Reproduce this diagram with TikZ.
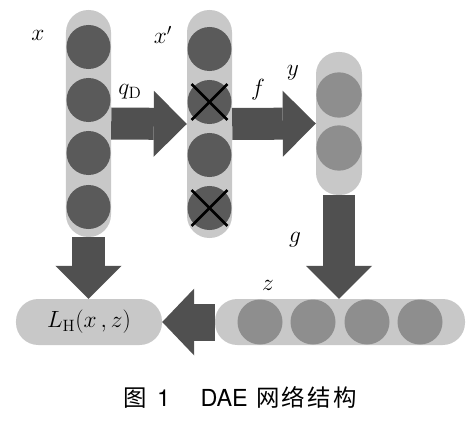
\RequirePackage{fix-cm}
\documentclass[tikz,border=0pt]{standalone}
\usepackage{fontspec}
\usetikzlibrary{arrows.meta}
\newfontfamily\cjk{Noto Sans CJK SC}
\newfontfamily\helv{TeX Gyre Heros}
\definecolor{grisCapa}{HTML}{C8C8C8}
\definecolor{grisNeurona}{HTML}{5A5A5A}
\definecolor{grisOculta}{HTML}{8E8E8E}
\definecolor{grisFlecha}{HTML}{505050}
\tikzset{
  capa/.style={fill=grisCapa, rounded corners=0.67cm, inner sep=0pt},
  neurona/.style={circle, fill=grisNeurona, minimum size=1.32cm, inner sep=0pt},
  oculta/.style={circle, fill=grisOculta, minimum size=1.36cm, inner sep=0pt},
  flecha/.style={draw=grisFlecha, line width=0.96cm,
    -{Triangle[width=1.98cm,length=0.99cm,line width=0pt]}},
  etiqueta/.style={font=\fontsize{20}{24}\selectfont, inner sep=0pt},
}
\newcommand{\tachar}[1]{%
  \draw[line width=2.4pt, shorten <=-2.6pt, shorten >=-2.6pt] (#1.north west) -- (#1.south east);
  \draw[line width=2.4pt, shorten <=-2.6pt, shorten >=-2.6pt] (#1.north east) -- (#1.south west);
}

\begin{document}
\begin{tikzpicture}[x=0.03cm, y=-0.03cm]
  \useasboundingbox[fill=white] (0,0) rectangle (473,422);
  % capas
  \node[capa, minimum width=1.35cm, minimum height=6.81cm] (xcol) at (88.5,123.5) {};
  \node[capa, minimum width=1.35cm, minimum height=6.84cm] (xpcol) at (209.5,124) {};
  \node[capa, minimum width=1.38cm, minimum height=4.29cm] (ycol) at (339,123.5) {};
  \node[capa, minimum width=7.5cm, minimum height=1.38cm] (zcol) at (340,322) {};
  \node[capa, minimum width=4.38cm, minimum height=1.38cm, font=\fontsize{20}{24}\selectfont]
    (loss) at (89,322) {$L_{\mathrm{H}}(x\,,z)$};
  % neuronas
  \foreach \i/\yy in {1/47,2/100,3/153,4/207}
    \node[neurona] (x\i) at (88.5,\yy) {};
  \foreach \i/\yy in {1/49,2/102,3/155,4/208}
    \node[neurona] (xp\i) at (209.5,\yy) {};
  \foreach \i/\yy in {1/95,2/148}
    \node[oculta] (y\i) at (339,\yy) {};
  \foreach \i/\xx in {1/260,2/313,3/367,4/420}
    \node[oculta, minimum size=1.35cm] (z\i) at (\xx,322) {};
  \tachar{xp2}
  \tachar{xp4}
  % flechas
  \draw[flecha] (xcol.east) -- (xpcol.west);
  \draw[flecha] (xpcol.east) -- (ycol.west);
  \draw[flecha] (ycol.south) -- (ycol.south |- zcol.north);
  \draw[flecha] (xcol.south) -- (xcol.south |- loss.north);
  \draw[flecha, line width=1.11cm, -{Triangle[width=2.01cm,length=0.96cm,line width=0pt]}]
    (zcol.west) -- (loss.east);
  % etiquetas
  \node[etiqueta] (lx) at (38,35) {$x$};
  \node[etiqueta] (lxp) at (163,35) {$x'$};
  \node[etiqueta] (lq) at (130,92) {$q_{\mathrm{D}}$};
  \node[etiqueta] (lf) at (258,90) {$f$};
  \node[etiqueta] (ly) at (293,73) {$y$};
  \node[etiqueta] (lg) at (295,240) {$g$};
  \node[etiqueta] (lz) at (268,285) {$z$};
  \node[font=\fontsize{20}{24}\selectfont, inner sep=0pt] (titulo) at (240,397)
    {{\cjk 图}\hspace{0.45em}{\helv 1}\hspace{1.3em}{\helv DAE}\hspace{0.35em}%
     {\cjk 网\hspace{0.1em}络\hspace{0.1em}结\hspace{0.1em}构}};
\end{tikzpicture}
\end{document}
